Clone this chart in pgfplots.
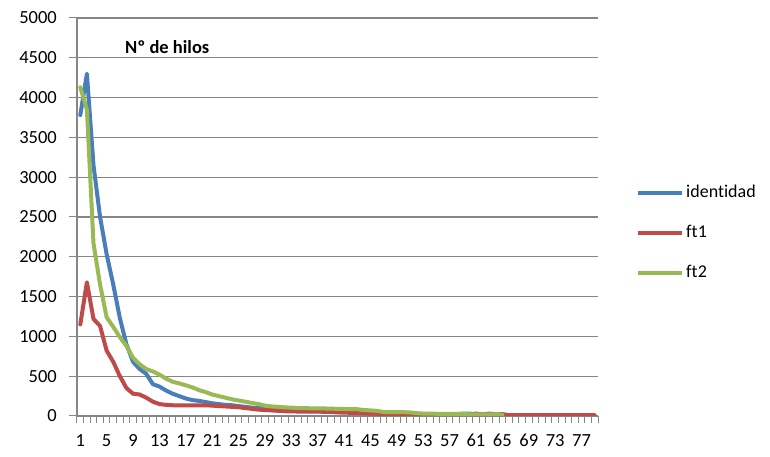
\documentclass[border=0pt]{standalone}
\usepackage{fontspec}
\setmainfont{Carlito}[Ligatures=NoCommon]
\usepackage{pgfplots}
\pgfplotsset{compat=1.18}
\definecolor{cblue}{HTML}{4A7EBB}
\definecolor{cred}{HTML}{BE4B48}
\definecolor{cgreen}{HTML}{98B954}
\definecolor{cgrid}{HTML}{868686}
\begin{document}
\fontsize{18}{22}\selectfont
\begin{tikzpicture}
\useasboundingbox (-77pt,-41pt) rectangle (693pt,416pt);
\begin{axis}[
  at={(0pt,0pt)}, anchor=south west,
  scale only axis, width=521pt, height=398pt,
  xmin=0.5, xmax=79.5, ymin=0, ymax=5000,
  axis lines*=left,
  axis line style={cgrid, line width=1.2pt, -},
  ytick={0,500,...,5000},
  ymajorgrids, grid style={cgrid, line width=1.2pt},
  xtick={1,5,...,77},
  minor xtick={0.5,1.5,...,79.5},
  tick align=outside,
  major tick length=8pt, minor tick length=7pt,
  tick style={cgrid, line width=1pt},
  major x tick style={draw=none},
  /pgf/number format/assume math mode=true,
  /pgf/number format/1000 sep={},
  scaled y ticks=false,
  ticklabel style={font=\fontsize{18.5}{22}\selectfont, text=black},
  yticklabel style={xshift=-6pt},
  xticklabel style={yshift=-4pt},
  every axis plot/.append style={line width=4pt, line join=round, line cap=round},
  legend style={draw=none, fill=none, at={(1.073,0.46)}, anchor=west,
    row sep=21pt, font=\fontsize{18}{22}\selectfont, inner sep=0pt},
  legend cell align=left,
  legend image code/.code={\draw[#1, line cap=butt] (0pt,0pt) -- (44pt,0pt);},
]
\addplot[cblue] coordinates {
(1,3780)(2,4300)(3,3150)(4,2500)(5,2030)(6,1650)(7,1230)(8,900)(9,680)(10,590)
(11,530)(12,400)(13,370)(14,320)(15,280)(16,250)(17,220)(18,200)(19,190)(20,175)
(21,160)(22,150)(23,140)(24,135)(25,125)(26,115)(27,105)(28,100)(29,95)(30,85)
(31,80)(32,75)(33,70)(34,68)(35,65)(36,62)(37,60)(38,60)(39,58)(40,55)
(41,52)(42,50)(43,48)(44,45)(45,42)(46,40)(47,38)(48,35)(49,33)(50,30)
(51,30)(52,28)(53,25)(54,25)(55,22)(56,20)(57,20)(58,25)(59,30)(60,30)
(61,15)(62,12)
};
\addlegendentry{identidad}
\addplot[cred] coordinates {
(1,1150)(2,1680)(3,1220)(4,1130)(5,820)(6,680)(7,500)(8,350)(9,280)(10,270)
(11,230)(12,180)(13,150)(14,140)(15,135)(16,135)(17,135)(18,135)(19,135)(20,135)
(21,130)(22,125)(23,120)(24,115)(25,110)(26,100)(27,90)(28,80)(29,75)(30,70)
(31,65)(32,60)(33,58)(34,56)(35,55)(36,55)(37,55)(38,52)(39,50)(40,45)
(41,42)(42,40)(43,38)(44,35)(45,30)(46,28)(47,25)(48,22)(49,20)(50,20)
(51,18)(52,18)(53,16)(54,16)(55,15)(56,15)(57,15)(58,15)(59,15)(60,20)
(61,30)(62,20)(63,30)(64,20)(65,25)(66,10)(67,10)(68,10)(69,10)(70,10)
(71,10)(72,10)(73,10)(74,10)(75,10)(76,10)(77,10)(78,10)(79,10)
};
\addlegendentry{ft1}
\addplot[cgreen] coordinates {
(1,4130)(2,3850)(3,2170)(4,1650)(5,1240)(6,1120)(7,990)(8,880)(9,730)(10,650)
(11,590)(12,560)(13,520)(14,470)(15,430)(16,410)(17,385)(18,360)(19,325)(20,300)
(21,270)(22,250)(23,230)(24,210)(25,195)(26,180)(27,165)(28,150)(29,130)(30,120)
(31,115)(32,108)(33,105)(34,100)(35,98)(36,97)(37,96)(38,95)(39,92)(40,90)
(41,88)(42,86)(43,85)(44,75)(45,70)(46,65)(47,50)(48,48)(49,48)(50,48)
(51,45)(52,35)(53,30)(54,30)(55,28)(56,28)(57,28)(58,25)(59,22)(60,22)
(61,20)(62,20)(63,20)(64,20)(65,20)
};
\addlegendentry{ft2}
\node[anchor=west, inner sep=0pt, font=\bfseries\fontsize{18.5}{22}\selectfont] at (rel axis cs:0.092,0.927) {Nº de hilos};
\end{axis}
\end{tikzpicture}
\end{document}
